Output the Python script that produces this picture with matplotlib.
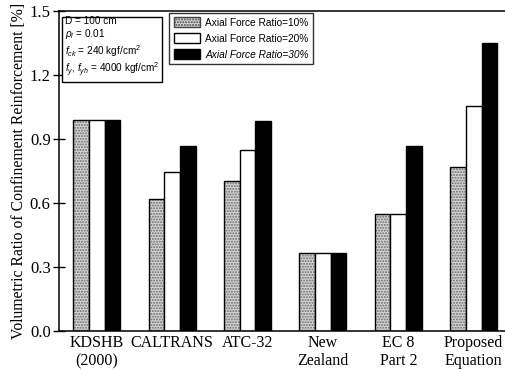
import matplotlib
matplotlib.use("Agg")
import matplotlib.pyplot as plt
import numpy as np

codes = ["KDSHB\n(2000)", "CALTRANS", "ATC-32", "New\nZealand", "EC 8\nPart 2", "Proposed\nEquation"]
ratio_10 = [0.99, 0.62, 0.705, 0.367, 0.549, 0.767]
ratio_20 = [0.99, 0.747, 0.847, 0.367, 0.549, 1.056]
ratio_30 = [0.99, 0.869, 0.985, 0.367, 0.867, 1.352]
series_labels = ["Axial Force Ratio=10%", "Axial Force Ratio=20%", "Axial Force Ratio=30%"]
yticks = [0.0, 0.3, 0.6, 0.9, 1.2, 1.5]

serif = ["Liberation Serif", "DejaVu Serif"]
sans = ["Liberation Sans", "DejaVu Sans"]
plt.rcParams["mathtext.fontset"] = "custom"
plt.rcParams["mathtext.rm"] = "Liberation Sans"
plt.rcParams["mathtext.it"] = "Liberation Sans:italic"

fig = plt.figure(figsize=(5.06, 3.72), dpi=100)
ax = fig.add_axes([59/506, 1-331/372, 446/506, 320/372])

x = np.arange(len(codes))
w = 0.207

# grey stippled bars: hatch first, then black outline
ax.bar(x - w, ratio_10, w, color="#d6d6d6", hatch="......", edgecolor="#6a6a6a", linewidth=0)
ax.bar(x - w, ratio_10, w, facecolor="none", edgecolor="black", linewidth=1.0)
ax.bar(x, ratio_20, w, color="white", edgecolor="black", linewidth=1.0)
ax.bar(x + w, ratio_30, w, color="black", edgecolor="black", linewidth=1.0)

ax.set_xlim(-0.5, -0.5 + 446/75.4)
ax.set_ylim(0, 1.5)
ax.set_yticks(yticks)
ax.set_yticklabels(["%.1f" % t for t in yticks], fontfamily=serif, fontsize=12)
ax.tick_params(axis="y", direction="inout", length=8, width=1, pad=2)
ax.set_xticks(x)
ax.set_xticklabels(codes, fontfamily=serif, fontsize=11.5, linespacing=1.15)
ax.tick_params(axis="x", length=0, pad=3)
ax.spines["right"].set_visible(False)
for s in ["left", "top", "bottom"]:
    ax.spines[s].set_linewidth(1.1)

ax.set_ylabel("Volumetric Ratio of Confinement Reinforcement [%]", fontfamily=serif, fontsize=11.3, labelpad=2)

# legend
h1 = plt.Rectangle((0, 0), 1, 1, facecolor="#d6d6d6", hatch="......", edgecolor="#444444", linewidth=1)
h2 = plt.Rectangle((0, 0), 1, 1, facecolor="white", edgecolor="black", linewidth=1)
h3 = plt.Rectangle((0, 0), 1, 1, facecolor="black", edgecolor="black", linewidth=1)
leg = ax.legend([h1, h2, h3], series_labels, loc="upper left", bbox_to_anchor=(0.247, 0.994),
                prop={"family": sans, "size": 7.3}, frameon=True, fancybox=False,
                edgecolor="black", handlelength=2.6, handleheight=1.1, labelspacing=0.55,
                borderpad=0.45, handletextpad=0.5, borderaxespad=0)
leg.get_frame().set_linewidth(1.0)
leg.get_texts()[2].set_fontstyle("italic")

info = ("D = 100 cm\n"
        r"$\rho_l$ = 0.01" "\n"
        r"$f_{ck}$ = 240 kgf/cm$^2$" "\n"
        r"$f_y$, $f_{yh}$ = 4000 kgf/cm$^2$")
ax.text(0.013, 0.985, info, transform=ax.transAxes, va="top", ha="left",
        fontfamily=sans, fontsize=7.2, linespacing=1.15,
        bbox=dict(boxstyle="square,pad=0.3", facecolor="white", edgecolor="black", linewidth=1.0))

fig.savefig("out.png", dpi=100)
